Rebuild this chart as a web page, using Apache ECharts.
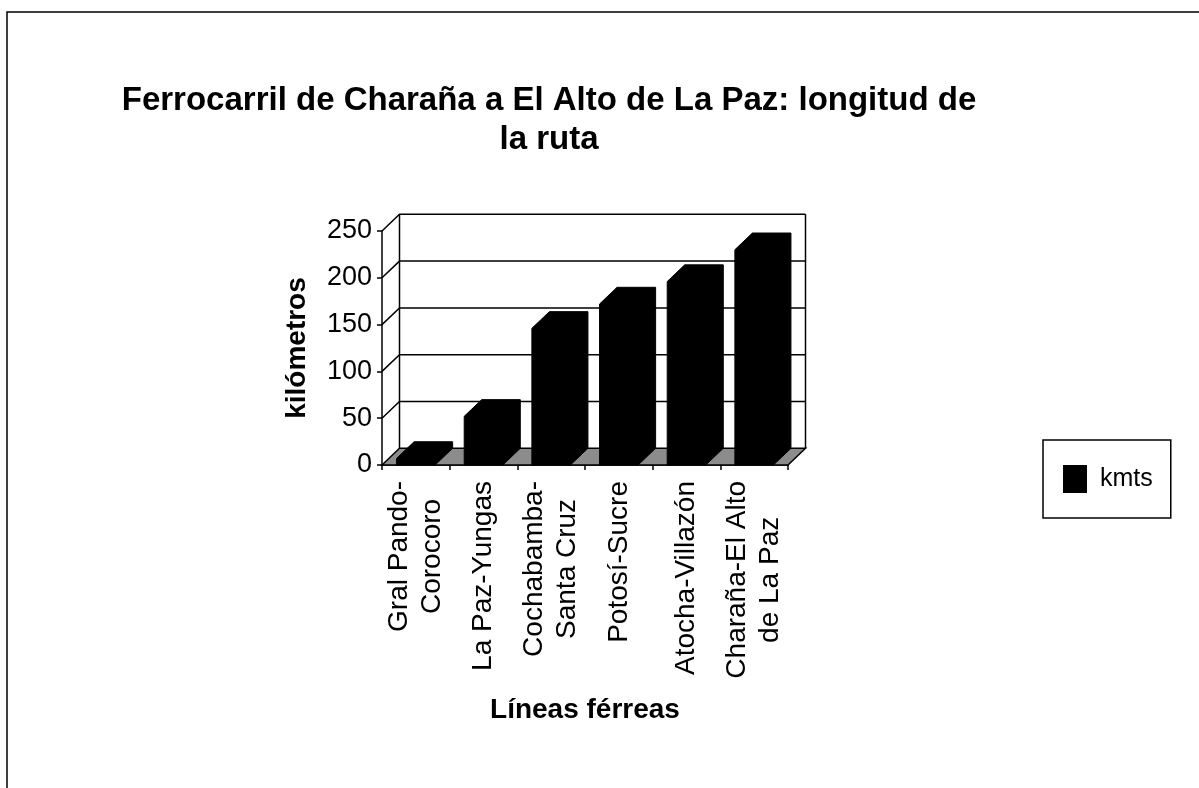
<!DOCTYPE html>
<html>
<head>
<meta charset="utf-8">
<script src="https://cdn.jsdelivr.net/npm/echarts@6/dist/echarts.min.js"></script>
<style>
  html, body { margin: 0; padding: 0; background: #fff; }
  #chart { width: 1199px; height: 788px; }
</style>
</head>
<body>
<div id="chart"></div>
<script>
// ---- data ----
const categories = [
  'Gral Pando-\nCorocoro',
  'La Paz-Yungas',
  'Cochabamba-\nSanta Cruz',
  'Potosí-Sucre',
  'Atocha-Villazón',
  'Charaña-El Alto\nde La Paz'
];
const kmts = [7, 52, 146, 172, 196, 230];
const yTicks = [0, 50, 100, 150, 200, 250];
const seriesName = 'kmts';
const titleText = 'Ferrocarril de Charaña a El Alto de La Paz: longitud de\nla ruta';
const yName = 'kilómetros';
const xName = 'Líneas férreas';

// ---- rendering ----
const FONT = "'Liberation Sans', Arial, sans-serif";
const DX = 17.5, DY = 16.7;

const chart = echarts.init(document.getElementById('chart'), null, { renderer: 'canvas' });

function wallsRender(params, api) {
  const v = api.value(1);
  const p = api.coord([0, v]);
  const cs = params.coordSys;
  const x0 = cs.x, x1 = cs.x + cs.width, yTop = cs.y;
  const yF = p[1];
  const stroke = { stroke: '#000', lineWidth: 1.5, fill: null };
  if (v === 0) {
    return {
      type: 'group',
      children: [
        { type: 'polygon', shape: { points: [[x0, yF], [x0 + DX, yF - DY], [x1 + DX, yF - DY], [x1, yF]] },
          style: { fill: '#8c8c8c', stroke: '#000', lineWidth: 1.5 } },
        { type: 'line', shape: { x1: x0 + DX, y1: yF - DY, x2: x0 + DX, y2: yTop - DY }, style: stroke },
        { type: 'line', shape: { x1: x1 + DX, y1: yF - DY, x2: x1 + DX, y2: yTop - DY }, style: stroke }
      ]
    };
  }
  return {
    type: 'polyline',
    shape: { points: [[x0, yF], [x0 + DX, yF - DY], [x1 + DX, yF - DY]] },
    style: stroke
  };
}

function barRender(params, api) {
  const x = api.value(0), v = api.value(1);
  const top = api.coord([x, v]);
  const base = api.coord([x, 0]);
  const w = api.size([1, 0])[0] * 0.57;
  const xl = top[0] - w / 2, xr = top[0] + w / 2;
  return {
    type: 'polygon',
    shape: { points: [
      [xl, base[1]], [xl, top[1]], [xl + DX, top[1] - DY],
      [xr + DX, top[1] - DY], [xr + DX, base[1] - DY], [xr, base[1]]
    ] },
    style: { fill: '#000', stroke: '#000', lineWidth: 1 }
  };
}

const option = {
  backgroundColor: '#fff',
  animation: false,
  title: {
    text: titleText,
    left: 544,
    top: 76,
    textAlign: 'center',
    textStyle: { fontFamily: FONT, fontSize: 33, fontWeight: 'bold', color: '#000', lineHeight: 39 }
  },
  legend: {
    data: [{ name: seriesName, icon: 'rect' }],
    left: 1043,
    top: 440,
    orient: 'vertical',
    itemWidth: 24,
    itemHeight: 28,
    padding: [25, 18, 25, 20],
    borderColor: '#000',
    borderWidth: 1.5,
    textStyle: { fontFamily: FONT, fontSize: 25, color: '#000', padding: [0, 0, 0, 8] }
  },
  graphic: [
    { type: 'rect', shape: { x: 7, y: 12, width: 1400, height: 1000 },
      style: { fill: null, stroke: '#000', lineWidth: 1.5 }, z: -1 }
  ],
  grid: { left: 382, right: 411, top: 231, bottom: 323, containLabel: false },
  xAxis: {
    type: 'category',
    data: categories,
    boundaryGap: true,
    name: xName,
    nameLocation: 'middle',
    nameGap: 231,
    nameTextStyle: { fontFamily: FONT, fontSize: 28, fontWeight: 'bold', color: '#000' },
    axisLine: { show: true, lineStyle: { color: '#000', width: 1.5 } },
    axisTick: { show: true, length: 5, lineStyle: { color: '#000', width: 1.5 } },
    splitLine: { show: false },
    axisLabel: {
      rotate: 90,
      margin: 16,
      interval: 0,
      color: '#000',
      formatter: function (v) { return v.split('\n').map(s => '{c|' + s + '}').join('\n'); },
      rich: { c: { align: 'center', fontFamily: FONT, fontSize: 28, lineHeight: 33, color: '#000' } }
    }
  },
  yAxis: {
    type: 'value',
    min: 0,
    max: 250,
    interval: 50,
    name: yName,
    nameLocation: 'middle',
    nameRotate: 90,
    nameGap: 71,
    nameTextStyle: { fontFamily: FONT, fontSize: 28, fontWeight: 'bold', color: '#000' },
    axisLine: { show: true, lineStyle: { color: '#000', width: 1.5 } },
    axisTick: { show: true, length: 5, lineStyle: { color: '#000', width: 1.5 } },
    splitLine: { show: false },
    axisLabel: { fontFamily: FONT, fontSize: 27, color: '#000', margin: 10 }
  },
  series: [
    {
      name: '_walls',
      type: 'custom',
      renderItem: wallsRender,
      encode: { x: 0, y: 1 },
      data: yTicks.map(v => [0, v]),
      z: 1,
      silent: true,
      clip: false
    },
    {
      name: seriesName,
      type: 'custom',
      renderItem: barRender,
      encode: { x: 0, y: 1 },
      itemStyle: { color: '#000' },
      data: kmts.map((v, i) => [i, v]),
      z: 2,
      clip: false
    }
  ]
};

chart.setOption(option);
</script>
</body>
</html>
